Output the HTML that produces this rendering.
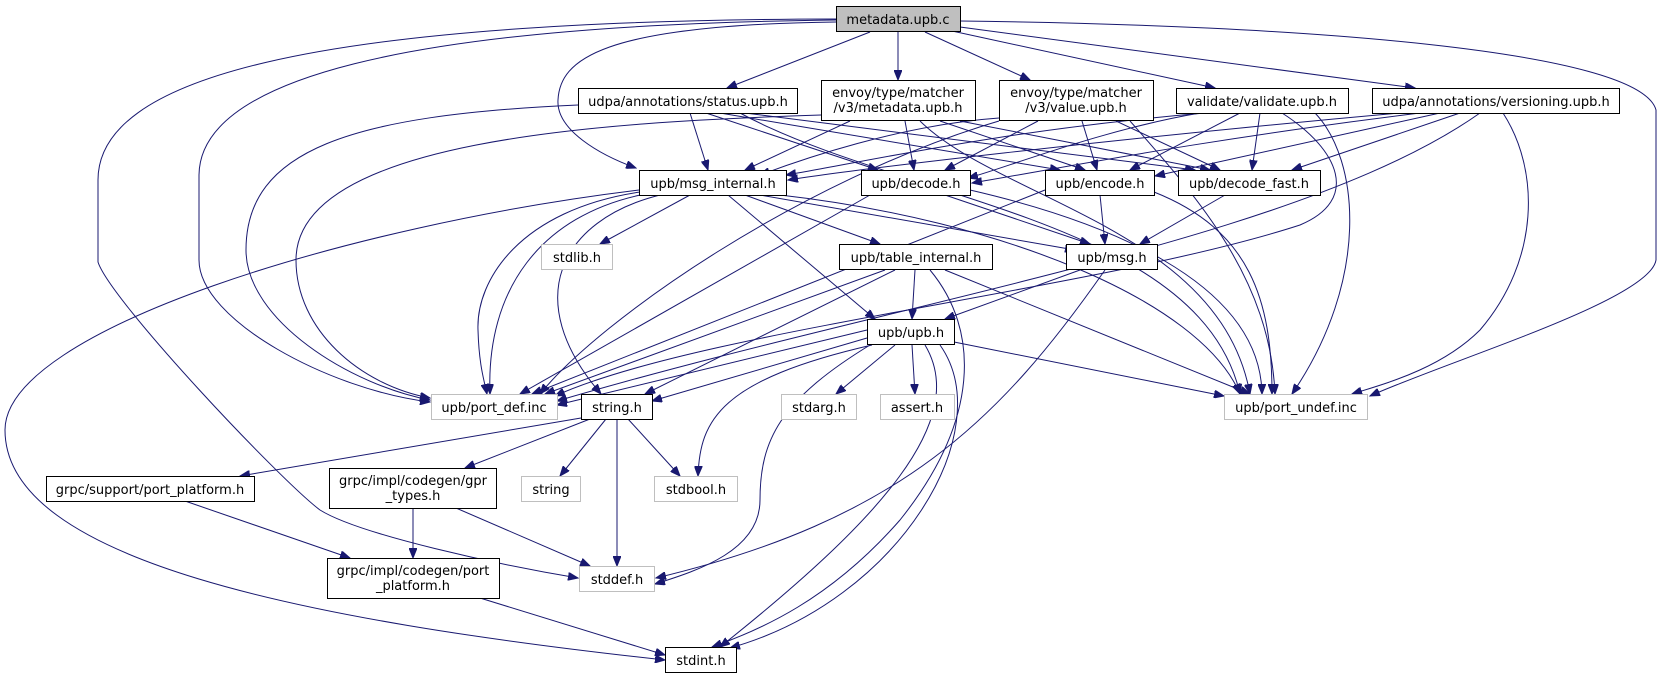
<!DOCTYPE html>
<html><head><meta charset="utf-8"><style>
html,body{margin:0;padding:0;background:#fff;}
svg{display:block;}
text{font-family:"DejaVu Sans","Liberation Sans",sans-serif;font-size:13px;fill:#000;}
.n{fill:#fff;stroke:#000;stroke-width:1;}
.g{fill:#fff;stroke:#bfbfbf;stroke-width:1;}
.e{fill:none;stroke:#191970;stroke-width:1;marker-end:url(#a);}
</style></head><body>
<svg width="1664" height="679" viewBox="0 0 1664 679" xmlns="http://www.w3.org/2000/svg">
<defs><marker id="a" markerUnits="userSpaceOnUse" markerWidth="11" markerHeight="8" refX="10" refY="4" orient="auto"><path d="M0,0 L10,4 L0,8 z" fill="#191970" stroke="#191970"/></marker></defs>
<g>
<!-- metadata.upb.c edges -->
<path class="e" d="M898,32 L898,80"/>
<path class="e" d="M870,32 L727,88"/>
<path class="e" d="M925,32 L1030,80"/>
<path class="e" d="M952,31 L1215,88"/>
<path class="e" d="M960,27 L1415,88"/>
<path class="e" d="M960,21 C1300,25 1640,50 1656,110 L1656,260 C1650,300 1450,360 1370,396"/>
<path class="e" d="M836,22 C600,25 560,60 558,100 C556,130 600,155 636,168"/>
<path class="e" d="M836,20 C400,25 200,80 199,175 L199,260 C199,320 330,390 430,402"/>
<path class="e" d="M836,19 C300,20 98,80 98,180 L98,262 C110,300 280,480 320,510 C360,535 500,565 578,578"/>
<!-- status -->
<path class="e" d="M578,105 C350,115 246,150 246,250 C246,320 350,385 430,400"/>
<path class="e" d="M690,113 L708,170"/>
<path class="e" d="M706,113 L878,170"/>
<path class="e" d="M720,113 L1060,170"/>
<path class="e" d="M745,113 L1195,170"/>
<path class="e" d="M740,113 C900,200 1200,220 1240,394"/>
<!-- envoy metadata -->
<path class="e" d="M821,115 C600,122 296,140 296,260 C296,330 360,385 430,398"/>
<path class="e" d="M850,121 L745,170"/>
<path class="e" d="M905,121 L914,170"/>
<path class="e" d="M940,121 L1085,170"/>
<path class="e" d="M960,121 L1210,170"/>
<path class="e" d="M920,121 C1000,200 1220,230 1250,394"/>
<!-- envoy value -->
<path class="e" d="M999,118 C900,125 800,160 760,175"/>
<path class="e" d="M1038,121 L945,170"/>
<path class="e" d="M1082,121 L1097,170"/>
<path class="e" d="M1116,121 L1220,170"/>
<path class="e" d="M1130,121 C1200,200 1270,280 1275,394"/>
<path class="e" d="M999,121 C800,180 600,320 540,394"/>
<!-- validate -->
<path class="e" d="M1205,113 C1000,130 850,165 786,175"/>
<path class="e" d="M1200,113 C1100,130 1000,170 968,178"/>
<path class="e" d="M1240,113 L1130,170"/>
<path class="e" d="M1260,113 L1252,170"/>
<path class="e" d="M1315,113 C1360,160 1370,280 1292,394"/>
<path class="e" d="M1282,113 C1340,150 1360,200 1300,225 C1100,290 700,330 555,396"/>
<!-- versioning -->
<path class="e" d="M1400,113 C1100,140 850,170 788,180"/>
<path class="e" d="M1420,113 C1200,140 1050,170 972,183"/>
<path class="e" d="M1440,113 L1155,176"/>
<path class="e" d="M1460,113 L1292,170"/>
<path class="e" d="M1480,113 C1300,240 900,300 557,401"/>
<path class="e" d="M1503,113 C1540,170 1540,260 1480,330 C1440,370 1380,385 1352,394"/>
<!-- msg_internal -->
<path class="e" d="M690,195 L600,244"/>
<path class="e" d="M745,195 L880,244"/>
<path class="e" d="M760,195 L1075,250"/>
<path class="e" d="M728,195 L875,319"/>
<path class="e" d="M780,195 C1000,220 1200,300 1240,394"/>
<path class="e" d="M639,190 C350,225 5,330 5,430 C5,560 300,620 665,660"/>
<path class="e" d="M640,192 C520,210 476,280 478,330 C479,365 484,380 487,394"/>
<path class="e" d="M645,194 C540,215 486,290 490,394"/>
<path class="e" d="M660,195 C560,220 520,300 601,394"/>
<!-- decode / encode / decode_fast -->
<path class="e" d="M945,195 L1090,244"/>
<path class="e" d="M870,195 L520,394"/>
<path class="e" d="M970,190 C1100,220 1260,280 1262,394"/>
<path class="e" d="M1100,195 L1105,244"/>
<path class="e" d="M1045,190 L532,394"/>
<path class="e" d="M1154,192 C1250,230 1272,300 1272,394"/>
<path class="e" d="M1225,195 L1140,244"/>
<!-- table_internal -->
<path class="e" d="M915,270 L912,319"/>
<path class="e" d="M885,270 L545,394"/>
<path class="e" d="M895,270 L645,394"/>
<path class="e" d="M945,270 L1250,394"/>
<path class="e" d="M930,270 C980,330 980,420 900,520 C830,600 760,630 712,647"/>
<!-- msg -->
<path class="e" d="M1080,270 L945,319"/>
<path class="e" d="M1105,270 C1000,420 900,520 656,578"/>
<!-- upb -->
<path class="e" d="M867,330 L557,405"/>
<path class="e" d="M867,338 L652,401"/>
<path class="e" d="M895,345 L836,394"/>
<path class="e" d="M912,345 L915,394"/>
<path class="e" d="M954,342 L1224,396"/>
<path class="e" d="M872,345 C720,380 700,420 698,476"/>
<path class="e" d="M870,345 C780,400 760,440 760,500 C760,550 700,570 655,584"/>
<path class="e" d="M925,345 C970,420 880,520 720,647"/>
<path class="e" d="M940,345 C1000,430 900,600 730,648"/>
<!-- string.h -->
<path class="e" d="M581,418 L240,476"/>
<path class="e" d="M590,419 L465,468"/>
<path class="e" d="M606,419 L560,476"/>
<path class="e" d="M628,419 L680,476"/>
<path class="e" d="M617,419 L617,566"/>
<!-- grpc -->
<path class="e" d="M185,501 L350,558"/>
<path class="e" d="M413,508 L413,558"/>
<path class="e" d="M456,508 L590,566"/>
<path class="e" d="M480,598 L665,655"/>
</g>
<g>
<rect x="836.5" y="6.5" width="124" height="25" fill="#bfbfbf" stroke="#000"/>
<text x="898" y="24" text-anchor="middle">metadata.upb.c</text>
<rect class="n" x="578.5" y="88.5" width="219" height="25"/>
<text x="688" y="106" text-anchor="middle">udpa/annotations/status.upb.h</text>
<rect class="n" x="821.5" y="80.5" width="154" height="40"/>
<text x="898" y="97" text-anchor="middle">envoy/type/matcher</text>
<text x="898" y="112" text-anchor="middle">/v3/metadata.upb.h</text>
<rect class="n" x="999.5" y="80.5" width="154" height="40"/>
<text x="1076" y="97" text-anchor="middle">envoy/type/matcher</text>
<text x="1076" y="112" text-anchor="middle">/v3/value.upb.h</text>
<rect class="n" x="1176.5" y="88.5" width="172" height="25"/>
<text x="1262" y="106" text-anchor="middle">validate/validate.upb.h</text>
<rect class="n" x="1372.5" y="88.5" width="247" height="25"/>
<text x="1496" y="106" text-anchor="middle">udpa/annotations/versioning.upb.h</text>
<rect class="n" x="639.5" y="170.5" width="147" height="25"/>
<text x="713" y="188" text-anchor="middle">upb/msg_internal.h</text>
<rect class="n" x="861.5" y="170.5" width="109" height="25"/>
<text x="916" y="188" text-anchor="middle">upb/decode.h</text>
<rect class="n" x="1045.5" y="170.5" width="109" height="25"/>
<text x="1100" y="188" text-anchor="middle">upb/encode.h</text>
<rect class="n" x="1178.5" y="170.5" width="142" height="25"/>
<text x="1249" y="188" text-anchor="middle">upb/decode_fast.h</text>
<rect class="g" x="541.5" y="244.5" width="71" height="25"/>
<text x="577" y="262" text-anchor="middle">stdlib.h</text>
<rect class="n" x="839.5" y="244.5" width="153" height="25"/>
<text x="916" y="262" text-anchor="middle">upb/table_internal.h</text>
<rect class="n" x="1066.5" y="244.5" width="91" height="25"/>
<text x="1112" y="262" text-anchor="middle">upb/msg.h</text>
<rect class="n" x="867.5" y="319.5" width="87" height="25"/>
<text x="911" y="337" text-anchor="middle">upb/upb.h</text>
<rect class="g" x="431.5" y="394.5" width="126" height="25"/>
<text x="494" y="412" text-anchor="middle">upb/port_def.inc</text>
<rect class="n" x="581.5" y="394.5" width="71" height="25"/>
<text x="617" y="412" text-anchor="middle">string.h</text>
<rect class="g" x="781.5" y="394.5" width="75" height="25"/>
<text x="819" y="412" text-anchor="middle">stdarg.h</text>
<rect class="g" x="880.5" y="394.5" width="74" height="25"/>
<text x="917" y="412" text-anchor="middle">assert.h</text>
<rect class="g" x="1224.5" y="394.5" width="143" height="25"/>
<text x="1296" y="412" text-anchor="middle">upb/port_undef.inc</text>
<rect class="n" x="46.5" y="476.5" width="208" height="25"/>
<text x="150" y="494" text-anchor="middle">grpc/support/port_platform.h</text>
<rect class="n" x="329.5" y="468.5" width="167" height="40"/>
<text x="413" y="485" text-anchor="middle">grpc/impl/codegen/gpr</text>
<text x="413" y="500" text-anchor="middle">_types.h</text>
<rect class="g" x="521.5" y="476.5" width="59" height="25"/>
<text x="551" y="494" text-anchor="middle">string</text>
<rect class="g" x="654.5" y="476.5" width="83" height="25"/>
<text x="696" y="494" text-anchor="middle">stdbool.h</text>
<rect class="n" x="327.5" y="558.5" width="172" height="40"/>
<text x="413" y="575" text-anchor="middle">grpc/impl/codegen/port</text>
<text x="413" y="590" text-anchor="middle">_platform.h</text>
<rect class="g" x="579.5" y="566.5" width="75" height="25"/>
<text x="617" y="584" text-anchor="middle">stddef.h</text>
<rect class="n" x="665.5" y="647.5" width="71" height="25"/>
<text x="701" y="665" text-anchor="middle">stdint.h</text>
</g>
</svg>
</body></html>
